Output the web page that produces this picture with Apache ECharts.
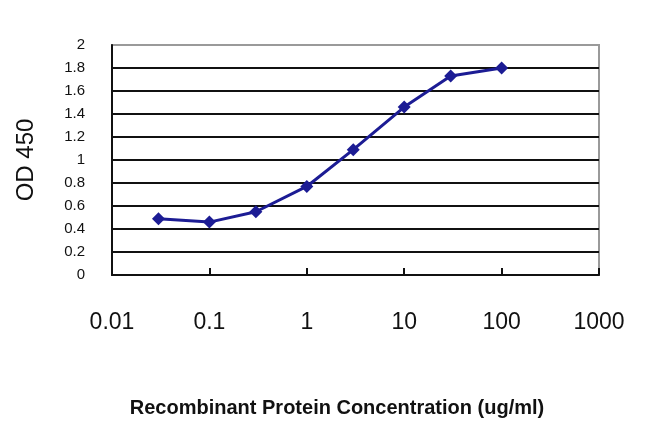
<!DOCTYPE html>
<html>
<head>
<meta charset="utf-8">
<script src="https://cdn.jsdelivr.net/npm/echarts@6/dist/echarts.min.js"></script>
<style>html,body{margin:0;padding:0;background:#fff;}#c{width:650px;height:433px;}</style>
</head>
<body>
<div id="c"></div>
<script>
var concentrations = [0.03, 0.1, 0.3, 1, 3, 10, 30, 100];
var od450 = [0.49, 0.46, 0.55, 0.77, 1.09, 1.46, 1.73, 1.80];
var xTickLabels = ['0.01', '0.1', '1', '10', '100', '1000'];
var yTickLabels = ['0', '0.2', '0.4', '0.6', '0.8', '1', '1.2', '1.4', '1.6', '1.8', '2'];
var xTitle = 'Recombinant Protein Concentration (ug/ml)';
var yTitle = 'OD 450';

var chart = echarts.init(document.getElementById('c'));
var gridColors = [];
for (var i = 0; i < yTickLabels.length; i++) gridColors.push(i === yTickLabels.length - 1 ? '#9a9a9a' : '#111');

chart.setOption({
  animation: false,
  backgroundColor: '#fff',
  grid: {left: 112, right: 51, top: 45, bottom: 158, show: true, borderColor: '#9a9a9a', borderWidth: 2, backgroundColor: 'transparent'},
  xAxis: {
    type: 'log', logBase: 10, min: 0.01, max: 1000,
    axisLine: {show: true, lineStyle: {color: '#111', width: 2}},
    axisTick: {show: true, inside: true, length: 7, lineStyle: {color: '#111', width: 2}},
    splitLine: {show: false},
    axisLabel: {
      margin: 36, fontSize: 23, color: '#111', fontFamily: 'Liberation Sans',
      formatter: function (v) { return xTickLabels[Math.round(Math.log10(v)) + 2]; }
    }
  },
  yAxis: {
    type: 'value', min: 0, max: 2, interval: 0.2,
    name: yTitle, nameLocation: 'middle', nameGap: 74,
    nameTextStyle: {fontSize: 24, color: '#111', fontFamily: 'Liberation Sans'},
    axisLine: {show: true, lineStyle: {color: '#111', width: 2}},
    axisTick: {show: false},
    splitLine: {show: true, lineStyle: {color: gridColors, width: 2}},
    axisLabel: {
      margin: 27, fontSize: 15, color: '#111', fontFamily: 'Liberation Sans',
      formatter: function (v) { return yTickLabels[Math.round(v / 0.2)]; }
    }
  },
  graphic: [{
    type: 'text', x: 337, y: 408,
    style: {text: xTitle, fontSize: 20, fontWeight: 'bold', fill: '#111', fontFamily: 'Liberation Sans', textAlign: 'center', textVerticalAlign: 'middle'}
  }],
  series: [{
    type: 'line',
    data: concentrations.map(function (c, i) { return [c, od450[i]]; }),
    symbol: 'diamond', symbolSize: 13,
    lineStyle: {color: '#1c1c94', width: 3},
    itemStyle: {color: '#1c1c94'}
  }]
});
</script>
</body>
</html>
